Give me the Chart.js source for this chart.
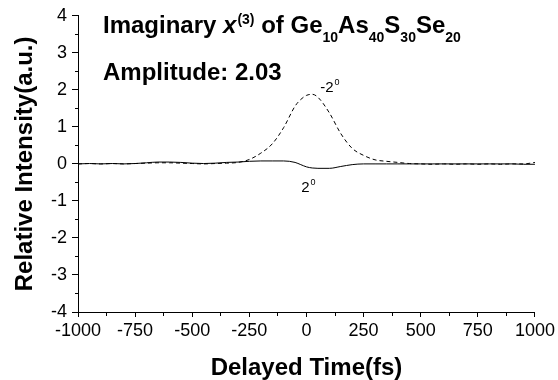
<!DOCTYPE html>
<html>
<head>
<meta charset="utf-8">
<script src="https://cdn.jsdelivr.net/npm/chart.js@4"></script>
<style>
  html, body { margin: 0; padding: 0; background: #fff; }
  #c { display: block; }
</style>
</head>
<body>
<canvas id="c" width="558" height="380"></canvas>
<script>
// ---- data ----
const times = [-1000,-950,-900,-850,-800,-750,-700,-650,-600,-550,-500,-450,-400,-350,-300,-250,-200,-150,-100,-50,-25,0,25,50,100,150,200,250,300,350,400,450,500,550,600,650,700,750,800,850,900,950,1000];
const minus2deg = [0.00,0.01,0.00,0.01,0.00,0.01,0.02,0.03,0.03,0.02,0.01,0.00,0.01,0.02,0.04,0.12,0.29,0.54,0.98,1.56,1.74,1.85,1.88,1.80,1.38,0.82,0.42,0.23,0.11,0.07,0.04,0.01,0.00,-0.01,0.00,-0.01,0.00,-0.01,0.00,-0.01,0.00,0.00,0.04];
const plus2deg  = [0.00,0.01,0.00,0.01,0.00,0.01,0.03,0.05,0.05,0.04,0.02,0.01,0.02,0.04,0.05,0.07,0.08,0.08,0.08,0.04,-0.02,-0.08,-0.11,-0.12,-0.12,-0.07,-0.02,0.00,0.00,0.00,0.00,0.00,0.00,0.00,0.00,0.00,0.00,0.00,0.00,0.00,0.00,-0.01,-0.01];
const xTickLabels = ['-1000','-750','-500','-250','0','250','500','750','1000'];
const yTickLabels = ['-4','-3','-2','-1','0','1','2','3','4'];
const curveLabels = [
  { text: '-2', sup: '0', x: 60, y: 1.95 },
  { text: '2',  sup: '0', x: -23, y: -0.76 }
];

const FONT = 'Liberation Sans, Arial, Helvetica, sans-serif';

const toPts = (vals) => times.map((t, i) => ({ x: t, y: vals[i] }));

const overlay = {
  id: 'overlay',
  afterDatasetsDraw(chart) {
    const ctx = chart.ctx;
    const xs = chart.scales.x, ys = chart.scales.y;
    ctx.save();
    ctx.fillStyle = '#000';
    ctx.textBaseline = 'alphabetic';
    ctx.textAlign = 'left';
    // curve annotations
    curveLabels.forEach(l => {
      const px = xs.getPixelForValue(l.x), py = ys.getPixelForValue(l.y);
      ctx.font = '15px ' + FONT;
      ctx.fillText(l.text, px, py);
      const w = ctx.measureText(l.text).width;
      ctx.font = '9px ' + FONT;
      ctx.fillText(l.sup, px + w + 1, py - 7);
    });
    // title line
    let x = 103;
    const base = 32.5;
    const seg = (txt, font, dy) => {
      ctx.font = font;
      ctx.fillText(txt, x, base + dy);
      x += ctx.measureText(txt).width;
    };
    const big = 'bold 24px ' + FONT, small = 'bold 14px ' + FONT;
    seg('Imaginary ', big, 0);
    seg('x', 'italic bold 24px ' + FONT, 0);
    x += 1;
    seg('(3)', small, -9);
    seg(' of Ge', big, 0);
    seg('10', small, 9);
    seg('As', big, 0);
    seg('40', small, 9);
    seg('S', big, 0);
    seg('30', small, 9);
    seg('Se', big, 0);
    seg('20', small, 9);
    ctx.font = 'bold 24px ' + FONT;
    ctx.fillText('Amplitude: 2.03', 103, 80);
    ctx.restore();
  }
};

new Chart(document.getElementById('c'), {
  type: 'line',
  data: {
    datasets: [
      { label: '-2°', data: toPts(minus2deg), borderColor: '#000', borderWidth: 1, borderDash: [4, 3],
        pointRadius: 0, cubicInterpolationMode: 'monotone', fill: false },
      { label: '2°', data: toPts(plus2deg), borderColor: '#000', borderWidth: 1,
        pointRadius: 0, cubicInterpolationMode: 'monotone', fill: false }
    ]
  },
  options: {
    responsive: false,
    animation: false,
    devicePixelRatio: 1,
    layout: { padding: { left: 0, right: 21, top: 13, bottom: 0 } },
    plugins: { legend: { display: false }, tooltip: { enabled: false } },
    scales: {
      x: {
        type: 'linear', min: -1000, max: 1000,
        afterFit(s) { s.height = 380 - 312; },
        border: { display: true, color: '#000', width: 1 },
        grid: { drawOnChartArea: false, drawTicks: true, tickLength: 5, color: '#000',
                tickBorderDash: (c) => (c.tick && c.tick.value % 250 !== 0) ? [3, 20] : [] },
        ticks: {
          stepSize: 125, autoSkip: false, maxRotation: 0, padding: 3, color: '#000',
          font: { family: FONT, size: 18 },
          callback: (v) => { const i = xTickLabels.indexOf(String(v)); return i >= 0 ? xTickLabels[i] : ''; }
        },
        title: { display: true, text: 'Delayed Time(fs)', color: '#000',
                 font: { family: FONT, size: 24, weight: 'bold', lineHeight: 1 }, padding: { top: 0, bottom: 0 } }
      },
      y: {
        type: 'linear', min: -4, max: 4,
        afterFit(s) { s.width = 78; },
        border: { display: true, color: '#000', width: 1 },
        grid: { drawOnChartArea: false, drawTicks: true, tickLength: 6, color: '#000',
                tickBorderDash: (c) => (c.tick && !Number.isInteger(c.tick.value)) ? [0, 3, 3, 20] : [] },
        ticks: {
          stepSize: 0.5, autoSkip: false, padding: 5, color: '#000',
          font: { family: FONT, size: 18 },
          callback: (v) => { const i = yTickLabels.indexOf(String(v)); return i >= 0 ? yTickLabels[i] : ''; }
        },
        title: { display: true, text: 'Relative Intensity(a.u.)', color: '#000',
                 font: { family: FONT, size: 24, weight: 'bold', lineHeight: 1 }, padding: { top: 13, bottom: 0 } }
      }
    }
  },
  plugins: [overlay]
});
</script>
</body>
</html>
